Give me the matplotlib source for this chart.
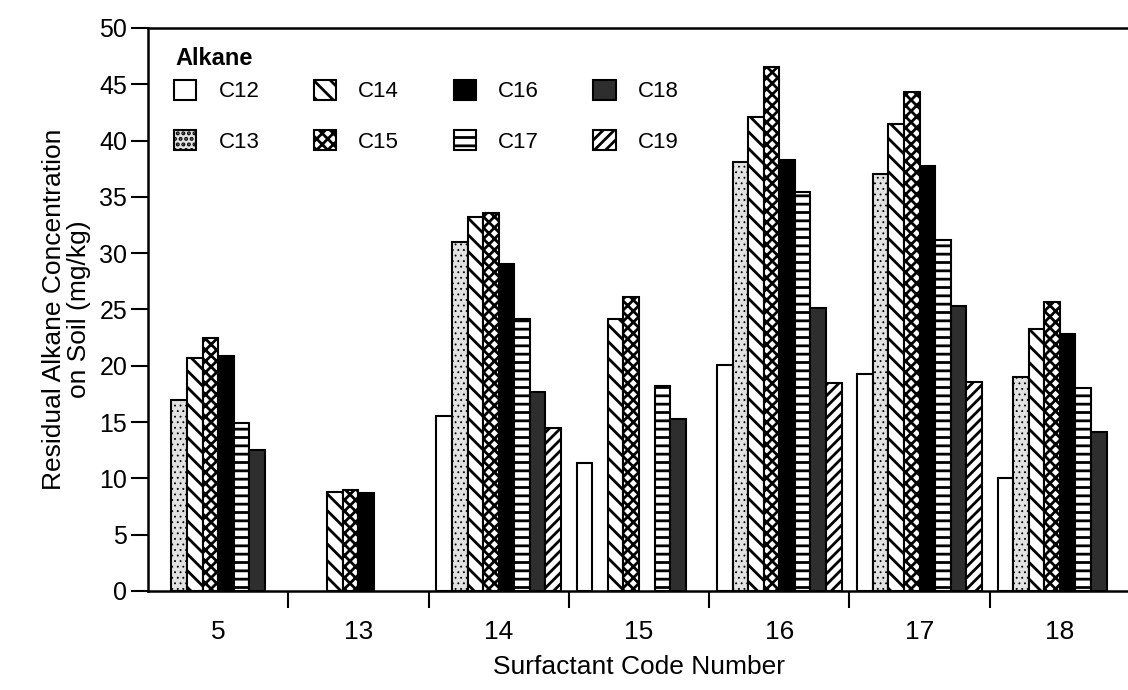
import numpy as np
import matplotlib
matplotlib.use("Agg")
import matplotlib.pyplot as plt
import matplotlib.transforms as mtransforms

plt.rcParams['font.family'] = ['Liberation Sans', 'DejaVu Sans']
plt.rcParams['hatch.linewidth'] = 2.0

# surfactant codes along x, one bar per alkane in each group
surfactants = ['5', '13', '14', '15', '16', '17', '18']
alkanes = ['C12', 'C13', 'C14', 'C15', 'C16', 'C17', 'C18', 'C19']

# residual alkane (mg/kg), nan = no bar
c12 = [np.nan, np.nan, 15.5, 11.4, 20.1, 19.3, 10.0]
c13 = [17.0, np.nan, 31.0, np.nan, 38.1, 37.0, 19.0]
c14 = [20.7, 8.8, 33.2, 24.2, 42.1, 41.5, 23.3]
c15 = [22.5, 9.0, 33.6, 26.1, 46.5, 44.3, 25.7]
c16 = [20.9, 8.7, 29.0, np.nan, 38.3, 37.7, 22.8]
c17 = [14.9, np.nan, 24.2, 18.2, 35.4, 31.2, 18.0]
c18 = [12.5, np.nan, 17.7, 15.3, 25.1, 25.3, 14.1]
c19 = [np.nan, np.nan, 14.5, np.nan, 18.5, 18.6, np.nan]
series = [c12, c13, c14, c15, c16, c17, c18, c19]

# (facecolor, hatch) for each alkane
styles = [('white', None), ('#e2e2e2', '...'), ('white', '\\\\'), ('white', 'xxx'),
          ('black', None), ('white', '--'), ('#2e2e2e', None), ('white', '///')]

fig = plt.figure(figsize=(11.28, 6.9), dpi=100)
ax = fig.add_axes([148 / 1128, 99 / 690, 982 / 1128, 563 / 690])

w = 0.111
x0 = np.arange(len(surfactants)) + 0.5
for k, (vals, name) in enumerate(zip(series, alkanes)):
    vals = np.array(vals, dtype=float)
    xs = x0 + (k - 3.5) * w
    m = ~np.isnan(vals)
    fc, ht = styles[k]
    bars = ax.bar(xs[m], vals[m], width=w, color=fc, hatch=ht, edgecolor='black',
                  linewidth=1.5, label=name)
    if ht == '...':
        for b in bars:
            try:
                b.set_hatch_linewidth(0.6)
            except AttributeError:
                pass

ax.set_xlim(0, 7)
ax.set_ylim(0, 50)
ax.set_yticks(np.arange(0, 51, 5))
ax.set_xticks(np.arange(1, 7))
ax.set_xticklabels([])
ax.set_xticks(x0, minor=True)
ax.set_xticklabels(surfactants, minor=True)
ax.tick_params(axis='x', which='major', direction='out', length=12, width=1.5)
ax.tick_params(axis='x', which='minor', length=0, labelsize=19, pad=21)
ax.tick_params(axis='y', direction='out', length=12, width=1.5, labelsize=18, pad=3)
for s in ['left', 'bottom', 'top']:
    ax.spines[s].set_linewidth(1.8)
ax.spines['right'].set_visible(False)

ax.set_xlabel('Surfactant Code Number', fontsize=19, labelpad=8)
ax.set_ylabel('Residual Alkane Concentration\non Soil (mg/kg)', fontsize=19,
              labelpad=6, linespacing=1.05)

# legend placed with x in figure pixels, y in data units
tr = mtransforms.blended_transform_factory(fig.transFigure, ax.transData)
ax.text(175 / 1128, 47.3, 'Alkane', transform=tr,
        fontsize=17, fontweight='bold', ha='left', va='center')
leg = ax.legend(ncol=4, loc='upper left', bbox_to_anchor=(174 / 1128, 45.4),
                bbox_transform=tr, frameon=False, borderpad=0,
                borderaxespad=0, fontsize=16, handlelength=1.0, handleheight=1.0,
                handletextpad=1.0, columnspacing=2.45, labelspacing=1.25)
for p in leg.get_patches():
    p.set_linewidth(1.5)

fig.savefig('out.png', dpi=100)
